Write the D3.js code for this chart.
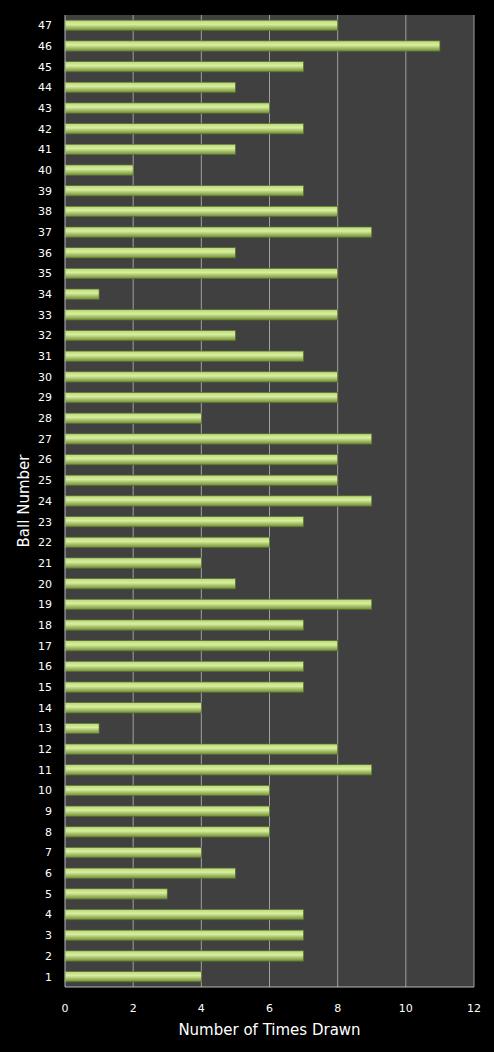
<!DOCTYPE html><html><head><script src="https://cdn.jsdelivr.net/npm/d3@7"></script>
<style>body{margin:0;background:#000}</style></head><body><svg id="c" width="494" height="1052"></svg><script>
const balls=d3.range(1,48);
const counts=[4,7,7,7,3,5,4,6,6,6,9,8,1,4,7,7,8,7,9,5,4,6,7,9,8,8,9,4,8,8,7,5,8,1,8,5,9,8,7,2,5,7,6,5,7,11,8];
const xTicks=[0,2,4,6,8,10,12];
const svg=d3.select("#c");
const L=65,R=474,T=15,B=987;
const x=d3.scaleLinear().domain([0,12]).range([L,R]);
const y=d3.scaleBand().domain(balls.slice().reverse()).range([T,B]).paddingInner(0.5).paddingOuter(0.25);
svg.append("rect").attr("x",L).attr("y",T).attr("width",R-L).attr("height",B-T).attr("fill","#404040");
const defs=svg.append("defs");
const g=defs.append("linearGradient").attr("id","gr").attr("x1",0).attr("y1",0).attr("x2",0).attr("y2",1);
g.append("stop").attr("offset","0").attr("stop-color","#b8d77a");
g.append("stop").attr("offset","0.4").attr("stop-color","#d9ef9c");
g.append("stop").attr("offset","1").attr("stop-color","#6f8a36");
svg.append("g").selectAll("line").data(xTicks.slice(1)).join("line")
 .attr("x1",d=>x(d)).attr("x2",d=>x(d)).attr("y1",T).attr("y2",B).attr("stroke","#a0a0a0").attr("stroke-width",1);
svg.append("g").selectAll("rect").data(balls).join("rect")
 .attr("x",x(0)).attr("y",d=>y(d)).attr("height",y.bandwidth()).attr("width",(d,i)=>x(counts[i])-x(0))
 .attr("fill","url(#gr)").attr("stroke","#55702a").attr("stroke-width",0.7);
svg.append("line").attr("x1",L).attr("x2",L).attr("y1",T).attr("y2",B).attr("stroke","#bbb");
svg.append("line").attr("x1",L).attr("x2",R).attr("y1",B).attr("y2",B).attr("stroke","#bbb");
svg.append("g").selectAll("text").data(balls).join("text")
 .attr("x",L-13).attr("y",d=>y(d)+y.bandwidth()/2).attr("dy","0.35em").attr("text-anchor","end")
 .attr("fill","#fff").attr("font-family","DejaVu Sans").attr("font-size",11).text(d=>d);
svg.append("g").selectAll("text").data(xTicks).join("text")
 .attr("x",d=>x(d)).attr("y",1012).attr("text-anchor","middle")
 .attr("fill","#fff").attr("font-family","DejaVu Sans").attr("font-size",11).text(d=>d);
svg.append("text").attr("x",(L+R)/2).attr("y",1035).attr("text-anchor","middle").attr("fill","#fff")
 .attr("font-family","DejaVu Sans").attr("font-size",15).text("Number of Times Drawn");
svg.append("text").attr("transform",`translate(29,${(T+B)/2}) rotate(-90)`).attr("text-anchor","middle").attr("fill","#fff")
 .attr("font-family","DejaVu Sans").attr("font-size",15).text("Ball Number");
</script></body></html>
